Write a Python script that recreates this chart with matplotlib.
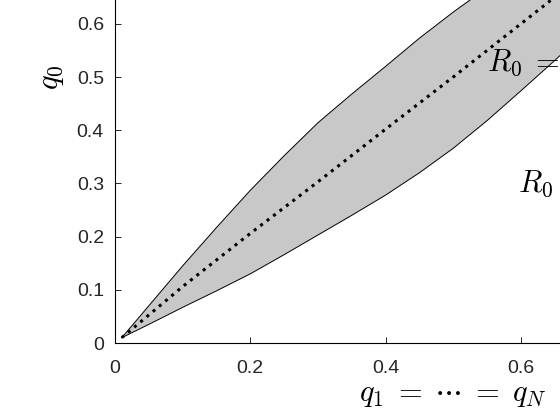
import numpy as np
import matplotlib
matplotlib.use("Agg")
import matplotlib.pyplot as plt

# boundary curves of the shaded region
upper_x = [0.01, 0.05, 0.10, 0.15, 0.20, 0.25, 0.30, 0.35, 0.40, 0.45, 0.50, 0.55, 0.60, 0.70]
upper_y = [0.01, 0.07, 0.145, 0.217, 0.287, 0.352, 0.414, 0.468, 0.520, 0.573, 0.622, 0.668, 0.712, 0.800]
lower_x = [0.01, 0.05, 0.10, 0.15, 0.20, 0.25, 0.30, 0.35, 0.40, 0.45, 0.50, 0.55, 0.60, 0.65, 0.70]
lower_y = [0.01, 0.035, 0.067, 0.098, 0.130, 0.166, 0.203, 0.240, 0.278, 0.320, 0.366, 0.418, 0.474, 0.531, 0.590]
# R0 = 1 curve
mid_x = [0.01, 0.10, 0.20, 0.30, 0.40, 0.50, 0.60, 0.70]
mid_y = [0.01, 0.106, 0.206, 0.303, 0.402, 0.500, 0.600, 0.700]

plt.rcParams['font.family'] = ['Liberation Sans', 'DejaVu Sans']
plt.rcParams['mathtext.fontset'] = 'cm'

fig = plt.figure(figsize=(5.6, 4.2), dpi=100)
# axes larger than the figure: only the lower-left part is visible
ax = fig.add_axes([115/560, 77/420, 676.5/560, 532/420])

px = upper_x + lower_x[::-1]
py = upper_y + lower_y[::-1]
ax.fill(px, py, color='#c8c8c8', lw=0)
ax.plot(upper_x, upper_y, 'k-', lw=0.7)
ax.plot(lower_x, lower_y, 'k-', lw=0.7)
ax.plot(mid_x, mid_y, color='k', ls=':', lw=2.2)

ax.text(0.55, 0.526, r'$R_0\;=\;1$', fontsize=22, va='center', ha='left')
ax.text(0.596, 0.30, r'$R_0\;<\;1$', fontsize=22, va='center', ha='left')

ax.set_xlim(0, 1)
ax.set_ylim(0, 1)
ax.set_xticks([0, 0.2, 0.4, 0.6, 0.8, 1])
ax.set_xticklabels(['0', '0.2', '0.4', '0.6', '0.8', '1'])
ax.set_yticks(np.arange(0, 1.01, 0.1))
ax.set_yticklabels(['0', '0.1', '0.2', '0.3', '0.4', '0.5', '0.6', '0.7', '0.8', '0.9', '1'])
ax.tick_params(direction='in', length=4, width=0.7, labelsize=14, colors='#262626')
ax.tick_params(axis='y', pad=8)
ax.tick_params(axis='x', pad=12)
for s in ax.spines.values():
    s.set_linewidth(0.8)

ax.set_xlabel(r'$q_1\;=\;\cdots\;=\;q_N$', fontsize=22, labelpad=2)
ax.set_ylabel(r'$q_0$', fontsize=22, labelpad=8)

fig.savefig('out.png', dpi=100)
